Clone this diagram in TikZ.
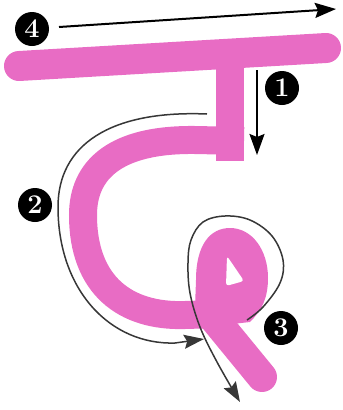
\documentclass[tikz,border=0pt]{standalone}
\usetikzlibrary{arrows.meta}
\definecolor{inkpink}{RGB}{232,108,196}
\definecolor{guide}{RGB}{55,55,55}
\tikzset{
  pinkstroke/.style={draw=inkpink, line width=28pt},
  numdisc/.style={circle, fill=black, inner sep=0pt, minimum size=34pt, text=white,
    font=\fontsize{27}{27}\selectfont\bfseries},
  blackarrow/.style={draw=black, line width=2pt, -{Stealth[length=21pt,width=15pt,inset=3pt]}},
  guidearrow/.style={draw=guide, line width=1.5pt, -{Stealth[length=20pt,width=14pt,inset=3pt]}}
}
\begin{document}
\begin{tikzpicture}[x=1pt,y=-1pt]
\useasboundingbox (0,0) rectangle (343,410);
% top bar (stroke 4)
\draw[pinkstroke, line width=30pt, line cap=round] (19,66) -- (326,48);
% stem (stroke 1)
\fill[inkpink] (216,55) rectangle (244,161);
% stroke 2
\draw[pinkstroke, line cap=butt] (244,141) -- (195,140) .. controls (115,139) and (83,170) .. (83,215)
   .. controls (83,285) and (125,317) .. (185,315) -- (220,314);
% stroke 3 loop and tail
\fill[inkpink] (195,308) -- (196,280) .. controls (196,245) and (210,228) .. (230,228)
   .. controls (252,228) and (268,250) .. (268,278) .. controls (268,298) and (262,310) .. (250,322)
   -- (215,326) -- cycle;
\draw[pinkstroke, line width=30pt, line cap=round] (262,377) -- (212,316);
\fill[white, rounded corners=3pt] (227,256) -- (244,281) -- (226,286) -- cycle;
% guide arrows
\coordinate (a4s) at (59,27); \coordinate (a4e) at (336,9);
\draw[blackarrow] (a4s) -- (a4e);
\coordinate (a1s) at (257,70); \coordinate (a1e) at (257,155);
\draw[blackarrow] (a1s) -- (a1e);
\coordinate (a2s) at (207,114); \coordinate (a2m) at (58,207); \coordinate (a2e) at (204,339);
\draw[guidearrow] (a2s) .. controls (110,110) and (58,145) .. (a2m)
   .. controls (58,290) and (110,345) .. (175,343) -- (a2e);
\draw[guidearrow] plot[smooth, tension=0.6] coordinates {(247,320) (263,307) (280,283) (283,260) (272,236) (250,220) (225,216) (203,222) (191,240) (188,263) (190,293) (200,327) (217,362) (240,402)};
% number discs
\node[numdisc] (n4) at (32,29) {4};
\node[numdisc] (n1) at (282,88) {1};
\node[numdisc] (n2) at (35,205) {2};
\node[numdisc] (n3) at (281,328) {3};
\end{tikzpicture}
\end{document}
